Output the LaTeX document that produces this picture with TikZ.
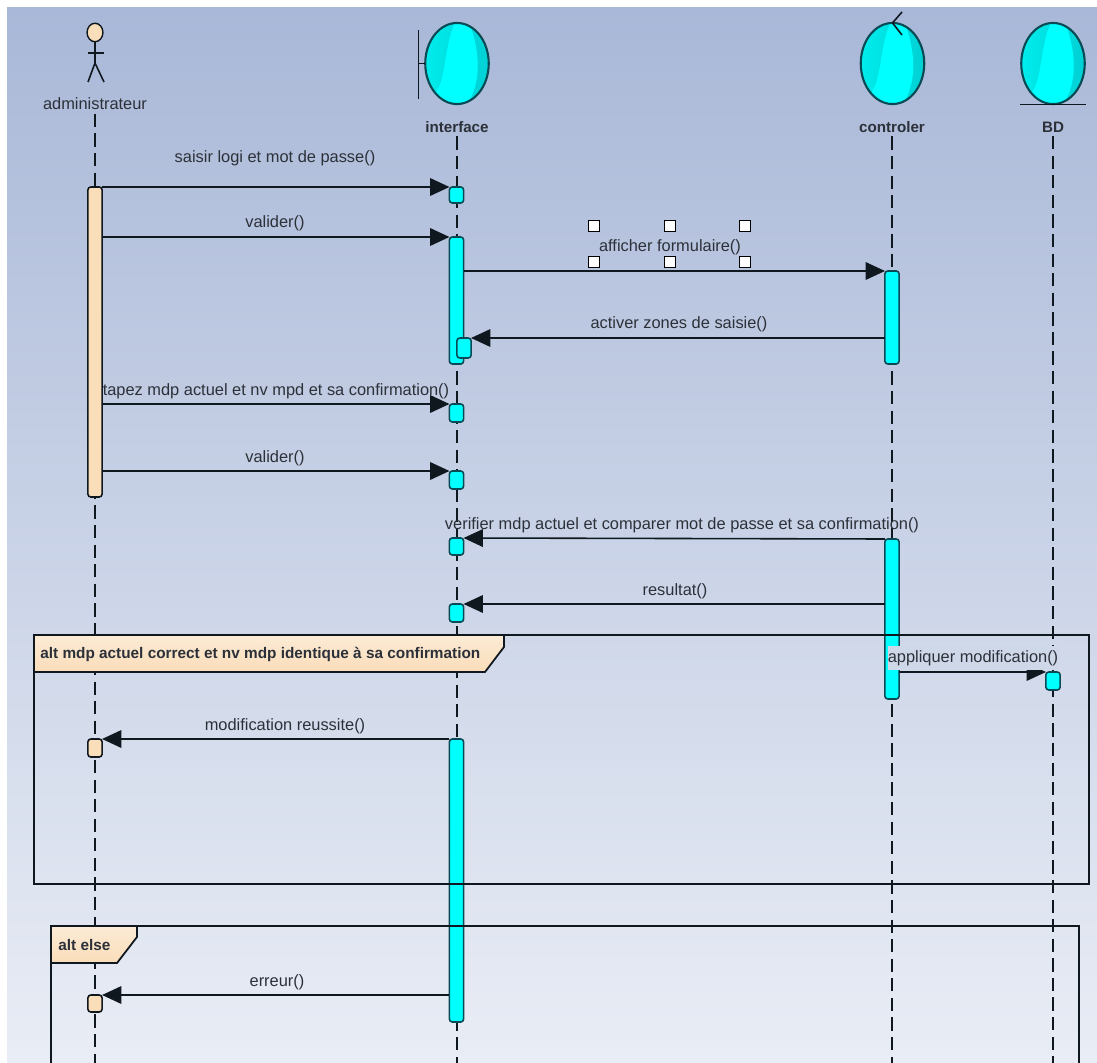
\documentclass[tikz,border=0pt]{standalone}
\usepackage{fontspec}
\setmainfont{Liberation Sans}
\usetikzlibrary{arrows.meta,shapes.geometric}
\definecolor{bgtop}{HTML}{A9B8D8}
\definecolor{bgbot}{HTML}{E9EDF5}
\definecolor{ink}{HTML}{10181F}
\definecolor{txt}{HTML}{2C3038}
\definecolor{peach}{HTML}{FADDB9}
\definecolor{peachl}{HTML}{FCEBD6}
\definecolor{tealb}{HTML}{0A4A55}
\definecolor{aqua}{HTML}{00FFFF}
\definecolor{cyanl}{HTML}{00ECEC}
\definecolor{cyand}{HTML}{00D0D4}
\definecolor{labelbg}{HTML}{CFD8E9}

\begin{document}
\begin{tikzpicture}[x=0.567pt,y=-0.567pt]
\tikzset{
  v/.style={rectangle,rounded corners=1.6pt,anchor=north,draw=tealb,line width=0.9pt,
    minimum width=8pt,inner sep=0pt,outer sep=0pt},
  len/.style={minimum height=#1*0.567pt},
  acti/.style={v,fill=aqua},
  acta/.style={v,draw=ink,fill=peach},
  head/.style={ellipse,draw=tealb,line width=1.2pt,minimum width=36pt,minimum height=46pt,
    inner sep=0pt,outer sep=0pt,left color=cyanl,right color=cyand,
    path picture={\fill[aqua,shift={(path picture bounding box.center)}]
      (-2,-41) .. controls (-14,-15) and (-10,20) .. (-24,32) -- (-10,41) -- (10,41)
      .. controls (24,20) and (24,-10) .. (12,-41) -- cycle;}},
  obj/.style={font=\fontsize{8.6}{10}\selectfont\bfseries,text=txt,inner sep=0pt},
  lbl/.style={font=\fontsize{9.3}{11}\selectfont,text=txt,inner sep=0pt},
  life/.style={draw=ink,line width=0.6pt,dash pattern=on 7.5pt off 3.6pt},
  msg/.style={draw=ink,line width=0.9pt,-{Triangle[length=11pt,width=10pt]}},
  stick/.style={draw=ink,line width=0.9pt},
  altframe/.style={draw=ink,line width=1pt},
  tag/.style={draw=ink,line width=1pt,top color=peachl,bottom color=peach},
  tagtxt/.style={font=\fontsize{8.7}{10}\selectfont\bfseries,text=txt,inner sep=0pt,anchor=west},
  hand/.style={rectangle,draw=black,fill=white,line width=0.8pt,minimum size=6pt,inner sep=0pt}
}

\useasboundingbox (0,0) rectangle (1097,1063);
\fill[top color=bgtop,bottom color=bgbot] (7,8) rectangle (1097,1063);

% heads
\path (95,32.5) node[ellipse,draw=ink,line width=0.8pt,fill=peach,minimum width=9pt,minimum height=10.5pt,inner sep=0pt,outer sep=0pt] (actor) {};
\path (95,63) coordinate (hip);
\path (88,53) coordinate (arml);
\path (104,53) coordinate (armr);
\path (88,82) coordinate (legl);
\path (104,82) coordinate (legr);
\draw[stick] (actor) -- (hip);
\draw[stick] (arml) -- (armr);
\draw[stick] (hip) -- (legl);
\draw[stick] (hip) -- (legr);

\path (457,63.5) node[head] (interfacehead) {};
\path (418.5,30) coordinate (bart);
\path (418.5,99) coordinate (barb);
\path (418.5,63.5) coordinate (barm);
\draw[stick] (bart) -- (barb);
\draw[stick] (barm) -- (interfacehead);

\path (892.5,63.5) node[head] (controlerhead) {};
\path (902,12) coordinate (tipa);
\path (902,35) coordinate (tipb);
\draw[stick] (controlerhead.north) -- (tipa);
\draw[stick] (controlerhead.north) -- (tipb);

\path (1053,63.5) node[head] (bdhead) {};
\path (1020,104.5) coordinate (basel);
\path (1086,104.5) coordinate (baser);
\draw[stick] (basel) -- (baser);

\path (95,104) node[lbl] (administrateur) {administrateur};
\path (457,127) node[obj] (interface) {interface};
\path (892,127) node[obj] (controler) {controler};
\path (1053,127) node[obj] (bd) {BD};

% lifelines
\path (95,1063) coordinate (adend);
\path (457,1063) coordinate (inend);
\path (892,1063) coordinate (coend);
\path (1053,1063) coordinate (bdend);
\draw[life] ([yshift=-2pt]administrateur.south) -- (adend);
\draw[life] ([yshift=-2pt]interface.south) -- (inend);
\draw[life] ([yshift=-2pt]controler.south) -- (coend);
\draw[life] ([yshift=-2pt]bd.south) -- (bdend);

% activations
\path (95,187) node[acta,len=310] (ad1) {};
\path (95,739) node[acta,len=18] (ad2) {};
\path (95,995) node[acta,len=17] (ad3) {};
\path (456.5,187) node[acti,len=16] (in1) {};
\path (456.5,237) node[acti,len=127] (in2) {};
\path (464,338) node[acti,len=20] (in3) {};
\path (456.5,404) node[acti,len=18] (in4) {};
\path (456.5,471) node[acti,len=18] (in5) {};
\path (456.5,538) node[acti,len=17] (in6) {};
\path (456.5,604) node[acti,len=18] (in7) {};
\path (456.5,739) node[acti,len=283] (in8) {};
\path (892,271) node[acti,len=93] (co1) {};
\path (892,539) node[acti,len=160] (co2) {};
\path (1053,672) node[acti,len=18] (bd1) {};

% frames
\draw[altframe] (34,635) rectangle (1089,884);
\draw[altframe] (51,1063) |- (1079,926) -- (1079,1063);
\draw[tag] (34,635) -- (504,635) -- (504,647) -- (485,672) -- (34,672) -- cycle;
\draw[tag] (51,926) -- (137,926) -- (137,937) -- (117,963) -- (51,963) -- cycle;
\path (40,654) node[tagtxt] (altok) {alt mdp actuel correct et nv mdp identique à sa confirmation};
\path (58,945) node[tagtxt] (altelse) {alt else};

% messages
\draw[msg] (ad1.north east) -- (in1.north west);
\draw[msg] (ad1.east |- in2.north) -- (in2.north west);
\draw[msg] (in2.east |- co1.north) -- (co1.north west);
\draw[msg] (co1.west |- in3.north) -- (in3.north east);
\draw[msg] (ad1.east |- in4.north) -- (in4.north west);
\draw[msg] (ad1.east |- in5.north) -- (in5.north west);
\draw[msg] (co2.north west) -- (in6.north east);
\draw[msg] (co2.west |- in7.north) -- (in7.north east);
\draw[msg] (co2.east |- bd1.north) -- (bd1.north west);
\draw[msg] (in8.north west) -- (ad2.north east);
\draw[msg] (in8.west |- ad3.north) -- (ad3.north east);

% labels
\path (275,158) node[lbl] (m1) {saisir logi et mot de passe()};
\path (275,223) node[lbl] (m2) {valider()};
\path (670,247) node[lbl] (m3) {afficher formulaire()};
\path (679,324) node[lbl] (m4) {activer zones de saisie()};
\path (276,391) node[lbl] (m5) {tapez mdp actuel et nv mpd et sa confirmation()};
\path (275,458) node[lbl] (m6) {valider()};
\path (682,525) node[lbl] (m7) {verifier mdp actuel et comparer mot de passe et sa confirmation()};
\path (675,591) node[lbl] (m8) {resultat()};
\path (973,658) node[lbl,fill=labelbg,minimum height=14pt] (m9) {appliquer modification()};
\path (285,726) node[lbl] (m10) {modification reussite()};
\path (277,982) node[lbl] (m11) {erreur()};

% selection handles
\foreach \x/\n in {594/a,670/b,745/c}{
  \path (\x,226) node[hand] (hu\n) {};
  \path (\x,262) node[hand] (hd\n) {};
}
\end{tikzpicture}
\end{document}
